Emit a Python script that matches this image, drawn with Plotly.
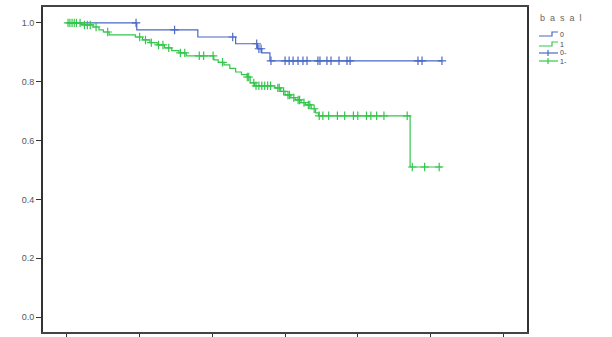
import plotly.graph_objects as go
import numpy as np

# ---- data ----
# basal = 0 (blue): event times and survival after each step
t0 = [0, 48, 90, 116, 131, 134, 139.6, 258]
s0 = [1.0, 0.976, 0.952, 0.929, 0.912, 0.898, 0.871, 0.871]
c0 = [47.5, 74, 114, 130.5, 132, 133.5, 140.3, 150, 152.8, 155.5, 158.9, 162.3,
      165.1, 172.6, 174, 178.8, 181.6, 187.1, 192.6, 194.7, 241.4, 244.2, 257.9]

# basal = 1 (green)
t1 = [0, 10, 18, 22, 25, 29, 47, 52, 57, 62, 67, 72, 77, 82, 101, 104, 108, 112,
      116, 120, 124, 126, 129, 143, 147, 150, 154, 157, 161, 164, 168, 171, 173,
      236, 258]
s1 = [1.0, 0.993, 0.986, 0.976, 0.969, 0.959, 0.952, 0.942, 0.933, 0.925, 0.915,
      0.906, 0.898, 0.888, 0.874, 0.866, 0.857, 0.845, 0.833, 0.824, 0.816, 0.796,
      0.786, 0.779, 0.767, 0.755, 0.746, 0.738, 0.729, 0.721, 0.708, 0.694, 0.684,
      0.510, 0.510]
c1 = [0.7, 2, 3.5, 5, 6.5, 9, 12, 14, 16, 20, 28, 50, 54, 58, 63, 66, 70, 78, 81,
      91, 94, 100.5, 107, 124, 125, 128.5, 130, 132, 134, 136, 138, 140, 145, 146,
      149, 152, 153, 156, 159, 160, 163, 166, 167, 170, 173.5, 176, 180, 186, 191,
      197, 200, 206, 209, 213, 218, 234, 237.5, 246, 256]

y_ticks = [0.0, 0.2, 0.4, 0.6, 0.8, 1.0]
y_ticklabels = ["0.0", "0.2", "0.4", "0.6", "0.8", "1.0"]
x_ticks = [0, 50, 100, 150, 200, 250, 300]

legend_title = "b  a  s  a  l"
legend_labels = ["0", "1", "0-", "1-"]

BLUE = "#4a68c6"
GREEN = "#34c64c"


def step_at(times, surv, c):
    out = []
    for x in c:
        idx = np.searchsorted(times, x, side="right") - 1
        out.append(surv[max(idx, 0)])
    return out


fig = go.Figure()
for t, s, c, col in [(t0, s0, c0, BLUE), (t1, s1, c1, GREEN)]:
    fig.add_trace(go.Scatter(x=t, y=s, mode="lines", line=dict(color=col, width=1.2, shape="hv"),
                             showlegend=False, hoverinfo="skip"))
    fig.add_trace(go.Scatter(x=c, y=step_at(t, s, c), mode="markers",
                             marker=dict(symbol="cross-thin", size=6, line=dict(color=col, width=1.2)),
                             showlegend=False, hoverinfo="skip"))

# plot area in pixels: x 43..527, y 7..332
L, R, T, B = 43, 527, 7, 332
W, H = R - L, B - T


def px(x):
    return (x - L) / W


def py(y):
    return (B - y) / H


shapes = []
ann = []
ann.append(dict(text=legend_title, x=px(538), y=py(18), xref="paper", yref="paper",
                xanchor="left", yanchor="middle", showarrow=False,
                font=dict(size=9, color="#666", family="Liberation Sans")))
rows = [(36, 32, BLUE, "step"), (46, 42, GREEN, "step"), (53, None, BLUE, "cross"), (61, None, GREEN, "cross")]
for (ylo, yhi, col, kind), lab in zip(rows, legend_labels):
    if kind == "step":
        path = f"M {px(539)} {py(ylo)} L {px(552)} {py(ylo)} L {px(552)} {py(yhi)} L {px(558)} {py(yhi)}"
        shapes.append(dict(type="path", path=path, xref="paper", yref="paper",
                           line=dict(color=col, width=1.2)))
        ty = (ylo + yhi) / 2 + 1
    else:
        shapes.append(dict(type="line", x0=px(539), x1=px(558), y0=py(ylo), y1=py(ylo),
                           xref="paper", yref="paper", line=dict(color=col, width=1.2)))
        shapes.append(dict(type="line", x0=px(548), x1=px(548), y0=py(ylo - 3), y1=py(ylo + 3),
                           xref="paper", yref="paper", line=dict(color=col, width=1.2)))
        ty = ylo
    ann.append(dict(text=lab, x=px(559), y=py(ty), xref="paper", yref="paper",
                    xanchor="left", yanchor="middle", showarrow=False, borderpad=0,
                    font=dict(size=7, color="#444", family="Liberation Sans")))

fig.update_layout(
    width=612, height=337,
    margin=dict(l=L, r=612 - R, t=T, b=337 - B, autoexpand=False),
    paper_bgcolor="white", plot_bgcolor="white",
    shapes=shapes, annotations=ann, showlegend=False,
    xaxis=dict(range=[-16.5, 316.4], tickvals=x_ticks, showticklabels=False, automargin=False,
               ticks="outside", ticklen=6, tickcolor="#333", tickwidth=1.2,
               showgrid=False, zeroline=False, showline=True, linecolor="#444",
               linewidth=1.5, mirror=True),
    yaxis=dict(range=[-0.051, 1.054], tickvals=y_ticks, ticktext=y_ticklabels, automargin=False,
               ticks="outside", ticklen=5, tickcolor="#333", tickwidth=1.2,
               tickfont=dict(size=9, color="#555", family="Liberation Sans"),
               showgrid=False, zeroline=False, showline=True, linecolor="#333",
               linewidth=1.8, mirror=True),
)
fig.write_html("out.html", config={"displayModeBar": False},
               post_script="document.body.style.margin='0';document.body.style.overflow='hidden';")
